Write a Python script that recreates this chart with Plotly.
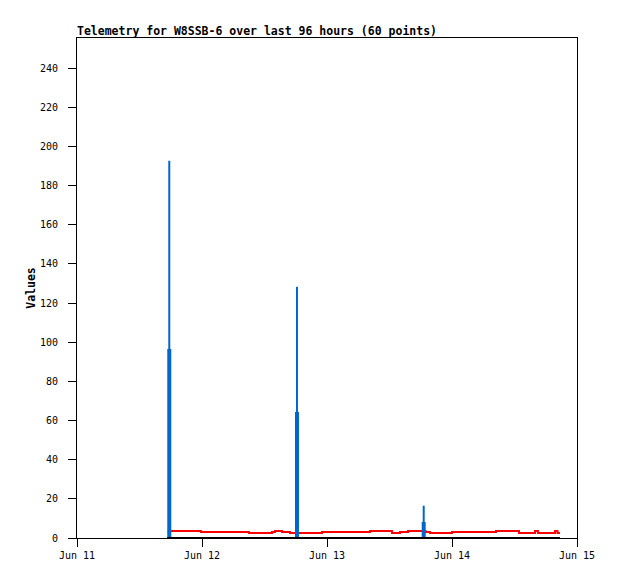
import plotly.graph_objects as go

# ---- data ----
spike_times = ["2024-06-11 17:43", "2024-06-12 18:14", "2024-06-13 18:34"]
spike_full = [192.7, 128.3, 16.5]
spike_half = [96.5, 64.4, 8.2]

red_times = [
    "2024-06-11 17:25", "2024-06-11 23:48", "2024-06-12 09:01", "2024-06-12 13:26",
    "2024-06-12 14:01", "2024-06-12 15:22", "2024-06-12 16:54", "2024-06-12 23:02",
    "2024-06-13 08:15", "2024-06-13 12:29", "2024-06-13 14:01", "2024-06-13 15:33",
    "2024-06-13 18:55", "2024-06-13 19:47", "2024-06-14 00:00", "2024-06-14 08:27",
    "2024-06-14 12:52", "2024-06-14 15:56", "2024-06-14 16:30", "2024-06-14 19:47",
    "2024-06-14 20:15", "2024-06-14 20:44",
]
red_values = [3.6, 3.1, 2.6, 3.1, 3.6, 3.1, 2.6, 3.1, 3.6, 2.6, 3.1, 3.6,
              3.1, 2.6, 3.1, 3.6, 2.6, 3.6, 2.6, 3.6, 2.6, 2.6]

black_times = ["2024-06-11 17:20", "2024-06-14 20:44"]
black_values = [0, 0]

x_tick_vals = ["2024-06-11", "2024-06-12", "2024-06-13", "2024-06-14", "2024-06-15"]
x_tick_text = ["Jun 11", "Jun 12", "Jun 13", "Jun 14", "Jun 15"]
y_tick_vals = list(range(0, 241, 20))

BLUE = "#0066CC"
FONT = "DejaVu Sans Mono"


def impulses(times, values):
    xs, ys = [], []
    for t, v in zip(times, values):
        xs += [t, t, None]
        ys += [0, v, None]
    return xs, ys


fig = go.Figure()
fig.add_trace(go.Scatter(x=red_times, y=red_values, mode="lines",
                         line=dict(color="#FF0000", width=2, shape="hv"),
                         showlegend=False, hoverinfo="skip"))
hx, hy = impulses(spike_times, spike_half)
fig.add_trace(go.Scatter(x=hx, y=hy, mode="lines", line=dict(color=BLUE, width=4),
                         showlegend=False, hoverinfo="skip"))
fx, fy = impulses(spike_times, spike_full)
fig.add_trace(go.Scatter(x=fx, y=fy, mode="lines", line=dict(color=BLUE, width=2),
                         showlegend=False, hoverinfo="skip"))
fig.add_trace(go.Scatter(x=black_times, y=black_values, mode="lines",
                         line=dict(color="#000000", width=2),
                         showlegend=False, hoverinfo="skip", cliponaxis=False))

fig.update_layout(
    width=618, height=579,
    margin=dict(l=69, r=49, t=30, b=49),
    paper_bgcolor="white", plot_bgcolor="white",
    font=dict(family=FONT, size=10, color="black"),
    title=dict(text="<b>Telemetry for W8SSB-6 over last 96 hours (60 points)</b>",
               font=dict(family=FONT, size=11.5, color="black"),
               x=69 / 618, xanchor="left", xref="container",
               y=1 - 23 / 579, yanchor="middle", yref="container"),
    xaxis=dict(type="date", range=["2024-06-11", "2024-06-15"],
               tickmode="array", tickvals=x_tick_vals, ticktext=x_tick_text,
               ticks="outside", ticklen=8, tickwidth=1, tickcolor="black",
               showline=True, linecolor="black", linewidth=1, mirror=True,
               showgrid=False, zeroline=False,
               tickfont=dict(family=FONT, size=10)),
    yaxis=dict(range=[0, 255.4], tickmode="array", tickvals=y_tick_vals,
               ticks="outside", ticklen=8, tickwidth=1, tickcolor="black",
               ticklabelstandoff=8,
               showline=True, linecolor="black", linewidth=1, mirror=True,
               showgrid=False, zeroline=False,
               tickfont=dict(family=FONT, size=10),
               title=dict(text="<b>Values</b>", standoff=1,
                          font=dict(family=FONT, size=11.5))),
)

fig.write_html("out.html")
